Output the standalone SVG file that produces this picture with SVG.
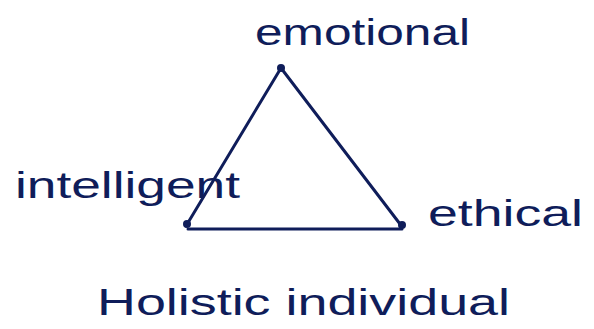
<svg xmlns="http://www.w3.org/2000/svg" width="594" height="329" viewBox="0 0 594 329">
<style>
.lbl{font-family:"Liberation Sans","DejaVu Sans",sans-serif;font-size:36px;fill:#0f1d5a;}
.edge{stroke:#0f1d5a;stroke-width:3;fill:none;stroke-linecap:round;}
.dot{fill:#0f1d5a;}
</style>
<rect width="594" height="329" fill="#ffffff"/>
<g id="connectors">
<line class="edge" x1="281" y1="68" x2="186" y2="226"/>
<line class="edge" x1="281" y1="68" x2="400" y2="224"/>
<line class="edge" x1="188" y1="229" x2="402" y2="229"/>
</g>
<g id="emotional">
<circle class="dot" cx="281" cy="68" r="4"/>
<text class="lbl" x="255" y="45" textLength="215" lengthAdjust="spacingAndGlyphs">emotional</text>
</g>
<g id="intelligent">
<circle class="dot" cx="187" cy="224" r="4"/>
<text class="lbl" x="15" y="198" textLength="225" lengthAdjust="spacingAndGlyphs">intelligent</text>
</g>
<g id="ethical">
<circle class="dot" cx="402" cy="225" r="4"/>
<text class="lbl" x="428" y="226" textLength="155" lengthAdjust="spacingAndGlyphs">ethical</text>
</g>
<g id="holistic">
<text class="lbl" x="97" y="315" textLength="413" lengthAdjust="spacingAndGlyphs">Holistic individual</text>
</g>
</svg>
